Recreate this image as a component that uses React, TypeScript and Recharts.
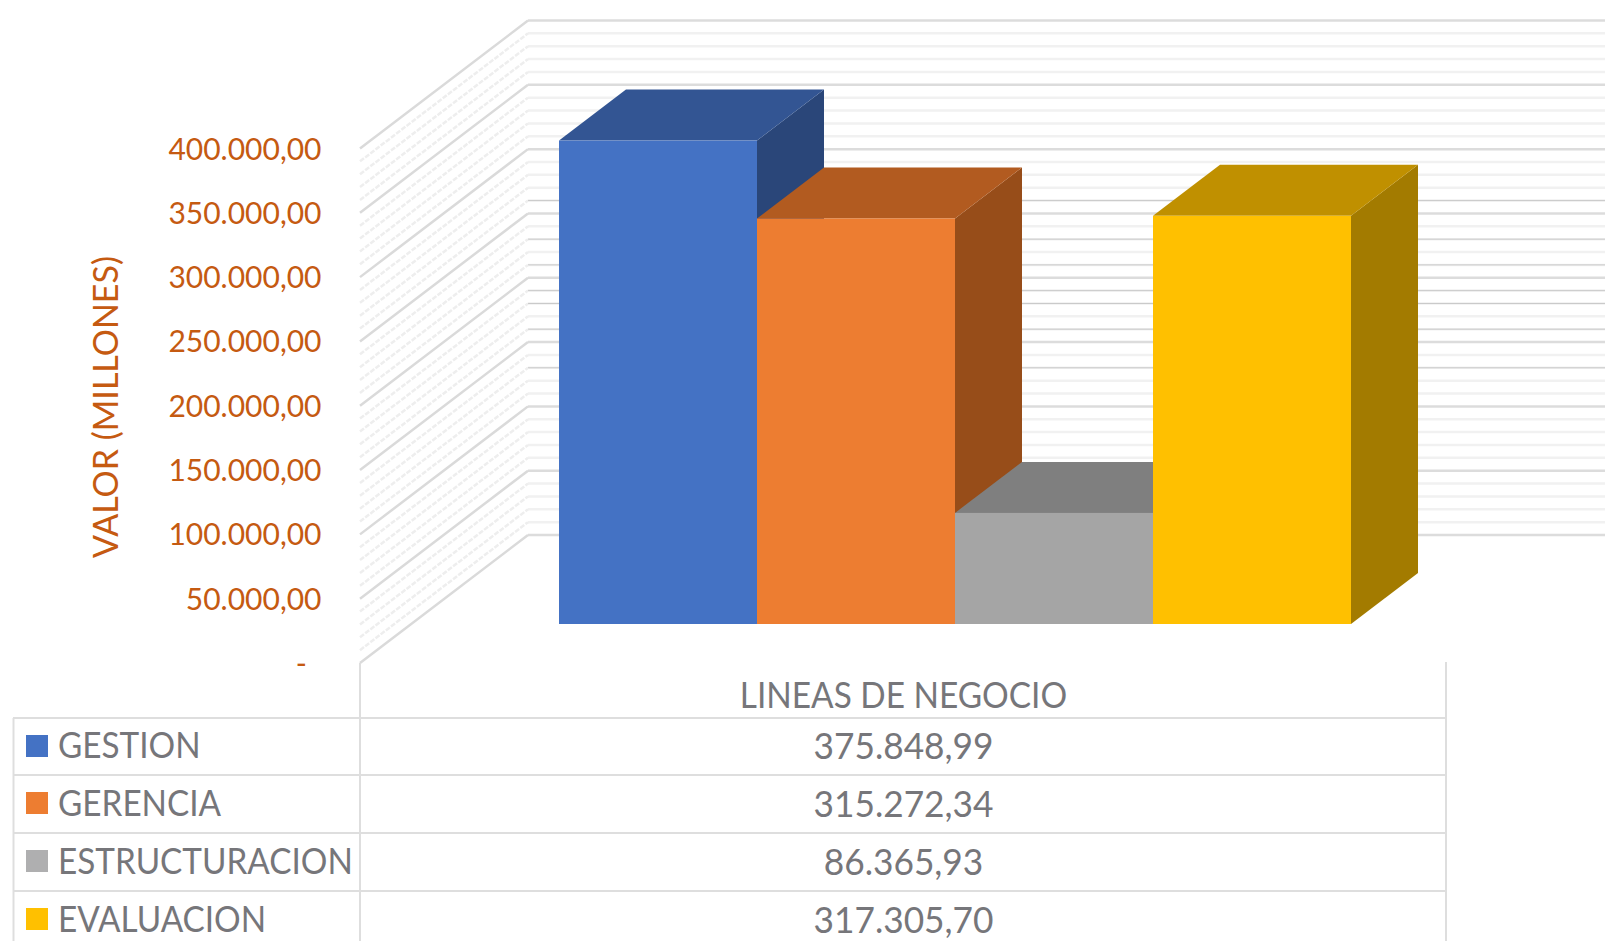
import { BarChart, Bar, XAxis, YAxis, CartesianGrid } from "recharts";

const categories = ["LINEAS DE NEGOCIO"];
const seriesNames = ["GESTION", "GERENCIA", "ESTRUCTURACION", "EVALUACION"];
const seriesValues = [375848.99, 315272.34, 86365.93, 317305.7];
const yTicks = [0, 50000, 100000, 150000, 200000, 250000, 300000, 350000, 400000];
const gridValues = [
  0, 10000, 20000, 30000, 40000, 50000, 60000, 70000, 80000, 90000, 100000,
  110000, 120000, 130000, 140000, 150000, 160000, 170000, 180000, 190000, 200000,
  210000, 220000, 230000, 240000, 250000, 260000, 270000, 280000, 290000, 300000,
  310000, 320000, 330000, 340000, 350000, 360000, 370000, 380000, 390000, 400000,
];
// minor wall lines that read darker and thinner in the picture
const darkGridValues = [130000, 160000, 180000, 190000, 210000, 230000, 260000];

const frontColors = ["#4472c4", "#ed7d31", "#a5a5a5", "#ffc000"];
const topColors = ["#335593", "#b25b20", "#7f7f7f", "#c09000"];
const sideColors = ["#2a4679", "#974d19", "#6b6b6b", "#a37b00"];
const swatchColors = ["#4472c4", "#ed7d31", "#afafb0", "#ffc000"];

const FONT = "Lato, sans-serif";
const AXIS_COLOR = "#c55a11";
const TEXT_COLOR = "#76767a";
const TABLE_LINE = "#dedede";

// 3d offsets, in px
const BAR_DX = 67;
const BAR_DY = -51;
const WALL_DX = 168;
const WALL_DY = -128;
const FRONT_SHIFT = 39; // side wall front edge sits below the bar baseline
const WALL_LEFT = 360;
const WALL_RIGHT = 1605;

const rows = categories.map((name) => {
  const row: Record<string, number | string> = { name };
  seriesNames.forEach((s, i) => {
    row[s] = seriesValues[i];
  });
  return row;
});

const fmt = (v: number) =>
  v.toLocaleString("de-DE", { minimumFractionDigits: 2, maximumFractionDigits: 2 });

function Bar3D(props: any, i: number) {
  const { x, y, width, height } = props;
  const r = x + width;
  const b = y + height;
  return (
    <g>
      <polygon
        points={`${r},${y} ${r + BAR_DX},${y + BAR_DY} ${r + BAR_DX},${b + BAR_DY} ${r},${b}`}
        fill={sideColors[i]}
      />
      <polygon
        points={`${x},${y} ${x + BAR_DX},${y + BAR_DY} ${r + BAR_DX},${y + BAR_DY} ${r},${y}`}
        fill={topColors[i]}
      />
      <rect x={x} y={y} width={width} height={height} fill={frontColors[i]} />
    </g>
  );
}

function WallLine(props: any) {
  const { y1, index } = props;
  const major = index % 5 === 0;
  const dark = darkGridValues.includes(gridValues[index]);
  const backX = WALL_LEFT + WALL_DX;
  const backY = y1 + FRONT_SHIFT + WALL_DY;
  return (
    <g key={`wall-${index}`}>
      <line
        x1={backX}
        y1={backY}
        x2={WALL_RIGHT}
        y2={backY}
        stroke={major ? "#dcdcdc" : "#f1f1f1"}
        strokeWidth={2.5}
      />
      {dark && (
        <line x1={backX} y1={backY} x2={WALL_RIGHT} y2={backY} stroke="#c9c9c9" strokeWidth={1} />
      )}
      <line
        x1={WALL_LEFT}
        y1={y1 + FRONT_SHIFT}
        x2={backX}
        y2={backY}
        stroke={major ? "#dadada" : "#eeeeee"}
        strokeWidth={2.5}
        strokeDasharray={major ? undefined : "5 1.5"}
      />
    </g>
  );
}

function ValueTick(props: any) {
  const { y, payload } = props;
  const zero = payload.value === 0;
  return (
    <text
      x={zero ? 307 : 321.5}
      y={y + FRONT_SHIFT + 11}
      textAnchor="end"
      fontFamily={FONT}
      fontSize={30}
      fill={AXIS_COLOR}
    >
      {zero ? "-" : fmt(payload.value)}
    </text>
  );
}

const lineYs = [718, 775, 833, 891];
const labelBaselines = [758, 816, 874, 932];
const valueBaselines = [759, 817, 875, 933];

function TableText({ x, y, anchor, scaleX, children }: any) {
  return (
    <text
      transform={`translate(${x},${y}) scale(${scaleX},1)`}
      textAnchor={anchor}
      fontFamily={FONT}
      fontSize={36}
      fill={TEXT_COLOR}
    >
      {children}
    </text>
  );
}

function DataTable() {
  return (
    <svg
      width={1605}
      height={941}
      style={{ position: "absolute", left: 0, top: 0, pointerEvents: "none" }}
    >
      <line x1={360} y1={663} x2={360} y2={941} stroke={TABLE_LINE} strokeWidth={2} />
      <line x1={1446} y1={662} x2={1446} y2={941} stroke={TABLE_LINE} strokeWidth={2} />
      <line x1={13.5} y1={718} x2={13.5} y2={941} stroke={TABLE_LINE} strokeWidth={2} />
      {lineYs.map((y) => (
        <line key={y} x1={13} y1={y} x2={1446} y2={y} stroke={TABLE_LINE} strokeWidth={2} />
      ))}
      <TableText x={903.5} y={708} anchor="middle" scaleX={0.927}>
        {categories[0]}
      </TableText>
      {seriesNames.map((s, i) => (
        <g key={s}>
          <rect x={26} y={lineYs[i] + 17} width={22} height={22} fill={swatchColors[i]} />
          <TableText x={58} y={labelBaselines[i]} anchor="start" scaleX={0.925}>
            {s}
          </TableText>
          <TableText x={903.5} y={valueBaselines[i]} anchor="middle" scaleX={0.98}>
            {fmt(seriesValues[i])}
          </TableText>
        </g>
      ))}
    </svg>
  );
}

export default function App() {
  return (
    <div
      style={{
        position: "absolute",
        left: 0,
        top: 0,
        width: 1605,
        height: 941,
        background: "#fff",
        overflow: "hidden",
      }}
    >
      <BarChart
        width={1605}
        height={941}
        data={rows}
        margin={{ top: 109.5, right: 254, bottom: 317, left: 0 }}
        barCategoryGap="0%"
        barGap={0}
      >
        <CartesianGrid vertical={false} horizontal={WallLine} horizontalValues={gridValues} />
        <XAxis dataKey="name" hide />
        <YAxis
          width={559}
          domain={[0, 400000]}
          ticks={yTicks}
          interval={0}
          axisLine={false}
          tickLine={false}
          tick={ValueTick}
        />
        {seriesNames.map((s, i) => (
          <Bar key={s} dataKey={s} isAnimationActive={false} shape={(p: any) => Bar3D(p, i)} />
        ))}
        <text
          transform="translate(118,407) rotate(-90)"
          textAnchor="middle"
          fontFamily={FONT}
          fontSize={34}
          fill={AXIS_COLOR}
        >
          VALOR (MILLONES)
        </text>
      </BarChart>
      <DataTable />
    </div>
  );
}
